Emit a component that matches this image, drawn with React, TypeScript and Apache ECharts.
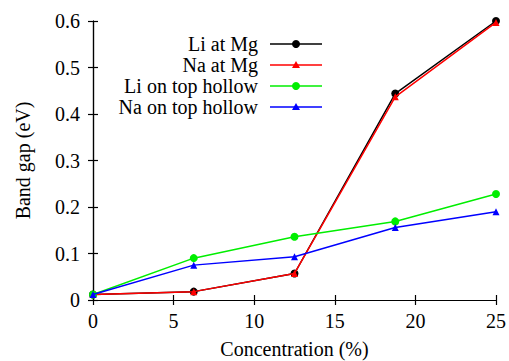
import React, { useEffect, useRef } from "react";
import * as echarts from "echarts";

const concentration = [0, 6.25, 12.5, 18.75, 25];
const seriesNames = ["Li at Mg", "Na at Mg", "Li on top hollow", "Na on top hollow"];
const liAtMg = [0.012, 0.018, 0.057, 0.444, 0.6];
const naAtMg = [0.012, 0.018, 0.057, 0.437, 0.597];
const liTopHollow = [0.012, 0.09, 0.136, 0.169, 0.228];
const naTopHollow = [0.012, 0.075, 0.093, 0.156, 0.19];
const colors = ["#000000", "#ff0000", "#00ee00", "#0000ff"];
const symbols = ["circle", "triangle", "circle", "triangle"];
const xTicks = [0, 5, 10, 15, 20, 25];
const yTicks = [0, 0.1, 0.2, 0.3, 0.4, 0.5, 0.6];

const FONT = "Liberation Serif";
const FS = 20;

export default function App() {
  const ref = useRef<HTMLDivElement>(null);
  useEffect(() => {
    const chart = echarts.init(ref.current!, null, { renderer: "svg" });
    const all = [liAtMg, naAtMg, liTopHollow, naTopHollow];
    const legendX = 270;
    const legendY0 = 44;
    const legendDy = 21;
    const legendGraphics: any[] = [];
    seriesNames.forEach((name, i) => {
      const y = legendY0 + i * legendDy;
      legendGraphics.push({
        type: "text",
        x: 258,
        y,
        style: { text: name, fill: "#000", font: `${FS}px "${FONT}"`, align: "right", verticalAlign: "middle" },
      });
      legendGraphics.push({
        type: "line",
        shape: { x1: legendX, y1: y, x2: legendX + 52, y2: y },
        style: { stroke: colors[i], lineWidth: 1.5 },
      });
      if (symbols[i] === "circle") {
        legendGraphics.push({ type: "circle", shape: { cx: legendX + 26, cy: y, r: 4 }, style: { fill: colors[i] } });
      } else {
        legendGraphics.push({
          type: "polygon",
          shape: { points: [[legendX + 26, y - 4], [legendX + 22, y + 3], [legendX + 30, y + 3]] },
          style: { fill: colors[i] },
        });
      }
    });
    const axisCommon = {
      axisLine: { show: true, lineStyle: { color: "#000", width: 1.2 } },
      axisTick: { show: true, inside: true, length: 5, lineStyle: { color: "#000", width: 1.2 } },
      splitLine: { show: false },
    };
    chart.setOption({
      animation: false,
      grid: { left: 93, right: 13, top: 21, bottom: 61, outerBoundsMode: "none", containLabel: false },
      xAxis: [
        {
          type: "value",
          min: 0,
          max: 25,
          interval: 5,
          ...axisCommon,
          axisLabel: { color: "#000", fontFamily: FONT, fontSize: FS, margin: 11, formatter: (v: number) => (xTicks.includes(v) ? String(v) : "") },
          name: "Concentration (%)",
          nameLocation: "middle",
          nameGap: 39,
          nameTextStyle: { color: "#000", fontFamily: FONT, fontSize: FS },
        },
        { type: "value", position: "top", min: 0, max: 25, interval: 5, ...axisCommon, axisLabel: { show: false } },
      ],
      yAxis: [
        {
          type: "value",
          min: 0,
          max: 0.6,
          interval: 0.1,
          ...axisCommon,
          axisLabel: {
            color: "#000",
            fontFamily: FONT,
            fontSize: FS,
            margin: 13,
            formatter: (v: number) => {
              const t = yTicks.find((k) => Math.abs(k - v) < 1e-9);
              return t === undefined ? "" : t === 0 ? "0" : t.toFixed(1);
            },
          },
          name: "Band gap (eV)",
          nameLocation: "middle",
          nameGap: 60,
          nameTextStyle: { color: "#000", fontFamily: FONT, fontSize: FS },
        },
        { type: "value", position: "right", min: 0, max: 0.6, interval: 0.1, ...axisCommon, axisLabel: { show: false } },
      ],
      series: all.map((vals, i) => ({
        type: "line",
        name: seriesNames[i],
        data: concentration.map((c, j) => [c, vals[j]]),
        symbol: symbols[i],
        symbolSize: symbols[i] === "circle" ? 8 : 7,
        showAllSymbol: true,
        lineStyle: { color: colors[i], width: 1.5 },
        itemStyle: { color: colors[i] },
        z: 2 + i,
      })),
      graphic: legendGraphics,
    });
    return () => chart.dispose();
  }, []);
  return <div ref={ref} style={{ width: 509, height: 361, position: "absolute", left: 0, top: 0, background: "#fff" }} />;
}
